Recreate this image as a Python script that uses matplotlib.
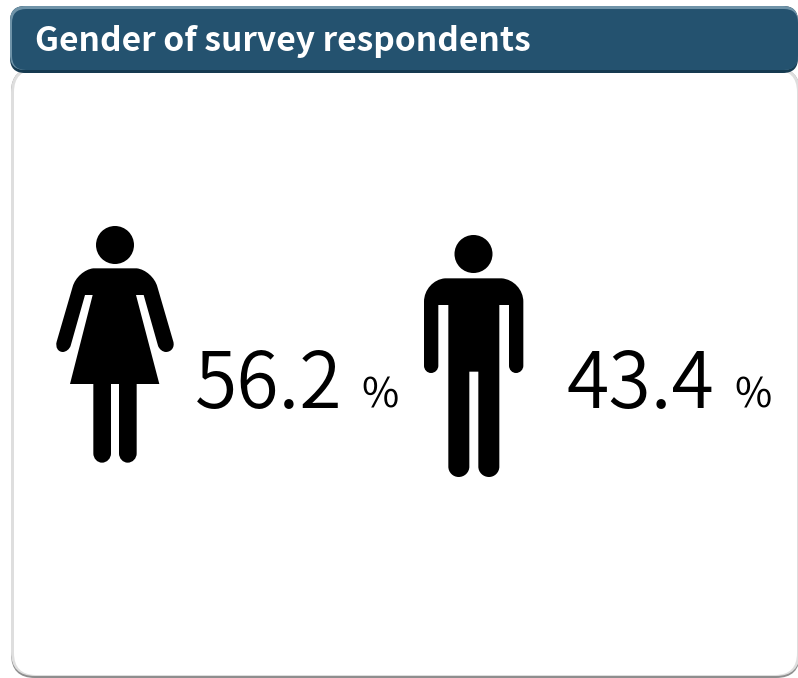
import matplotlib
matplotlib.use('Agg')
import matplotlib.pyplot as plt
from matplotlib.patches import FancyBboxPatch, Circle, PathPatch
from matplotlib.path import Path

title = 'Gender of survey respondents'
genders = ['female', 'male']
percent = [56.2, 43.4]

plt.rcParams['font.family'] = ['Noto Sans CJK JP', 'DejaVu Sans']

fig = plt.figure(figsize=(7.98, 6.78), dpi=100)
ax = fig.add_axes([0, 0, 1, 1])
ax.set_xlim(0, 798)
ax.set_ylim(678, 0)
ax.axis('off')


def box(x0, y0, x1, y1, r, color, z):
    ax.add_patch(FancyBboxPatch((x0 + r, y0 + r), x1 - x0 - 2 * r, y1 - y0 - 2 * r,
                                boxstyle='round,pad=%s,rounding_size=%s' % (r, r),
                                fc=color, ec='none', zorder=z))


# card with a soft grey edge, darker along the bottom
box(11, 68, 800, 678, 24, '#8e8e8e', 1)
box(11, 68, 800, 676, 24, '#dedede', 2)
box(14, 70, 797, 675, 22, 'white', 3)

# header bar
box(10, 6, 798, 73, 15, '#153a50', 4)
box(10, 6, 798, 70, 15, '#6f93a8', 5)
box(12, 9, 798, 70, 14, '#24526f', 6)
ax.text(35, 51, title, color='white', fontsize=24.15, fontweight='bold',
        va='baseline', ha='left', zorder=7)


def figure_path(pts, ox, oy):
    # quadratic corners are turned into cubics so they come out close to round
    verts, codes = [], []
    i = 0
    while i < len(pts):
        code, x, y = pts[i]
        if code == Q:
            px, py = verts[-1]
            cx, cy = ox + x / 3, oy + y / 3
            ex, ey = ox + pts[i + 1][1] / 3, oy + pts[i + 1][2] / 3
            verts += [(px + 0.55 * (cx - px), py + 0.55 * (cy - py)),
                      (ex + 0.55 * (cx - ex), ey + 0.55 * (cy - ey)), (ex, ey)]
            codes += [Path.CURVE4] * 3
            i += 2
        else:
            verts.append((ox + x / 3, oy + y / 3))
            codes.append(code)
            i += 1
    return Path(verts, codes)


M, L, Q = Path.MOVETO, Path.LINETO, Path.CURVE3

# woman outline, zoomed units
woman = [(M, 160, 160), (L, 290, 160), (Q, 338, 165), (Q, 352, 215), (L, 400, 380),
         (Q, 408, 410), (Q, 378, 411), (Q, 360, 411), (Q, 354, 392), (L, 311, 240),
         (L, 288, 240), (L, 358, 507), (L, 290, 507), (L, 290, 715), (Q, 290, 743),
         (Q, 263, 743), (Q, 237, 743), (Q, 237, 715), (L, 237, 507), (L, 213, 507),
         (L, 213, 715), (Q, 213, 743), (Q, 186, 743), (Q, 160, 743), (Q, 160, 715),
         (L, 160, 507), (L, 90, 507), (L, 158, 240), (L, 135, 240), (L, 92, 392),
         (Q, 86, 411), (Q, 68, 411), (Q, 42, 410), (Q, 50, 380), (L, 98, 215),
         (Q, 112, 165), (Q, 160, 160)]
ax.add_patch(PathPatch(figure_path(woman, 40, 215), fc='black', ec='none', zorder=8))
ax.add_patch(Circle((115, 245), 19, fc='black', ec='none', zorder=8))

# man outline, zoomed units
man = [(M, 105, 160), (L, 275, 160), (Q, 340, 165), (Q, 340, 230), (L, 340, 422),
       (Q, 340, 444), (Q, 318, 444), (Q, 297, 444), (Q, 297, 422), (L, 297, 240),
       (L, 268, 240), (L, 268, 725), (Q, 268, 756), (Q, 237, 756), (Q, 205, 756),
       (Q, 205, 725), (L, 205, 440), (L, 178, 440), (L, 178, 725), (Q, 178, 756),
       (Q, 146, 756), (Q, 115, 756), (Q, 115, 725), (L, 115, 240), (L, 85, 240),
       (L, 85, 422), (Q, 85, 444), (Q, 63, 444), (Q, 42, 444), (Q, 42, 422),
       (L, 42, 230), (Q, 42, 165), (Q, 105, 160)]
ax.add_patch(PathPatch(figure_path(man, 410, 225), fc='black', ec='none', zorder=8))
ax.add_patch(Circle((473.5, 254), 19, fc='black', ec='none', zorder=8))

# percentages next to each figure
for x, sx, v in zip([195, 566], [361, 734], percent):
    ax.text(x, 408, '%.1f' % v, color='black', fontsize=55.5, fontweight=350,
            va='baseline', ha='left', zorder=8)
    ax.text(sx, 408, '%', color='black', fontsize=29, fontweight='regular',
            va='baseline', ha='left', zorder=8)

fig.savefig('out.png', dpi=100)
